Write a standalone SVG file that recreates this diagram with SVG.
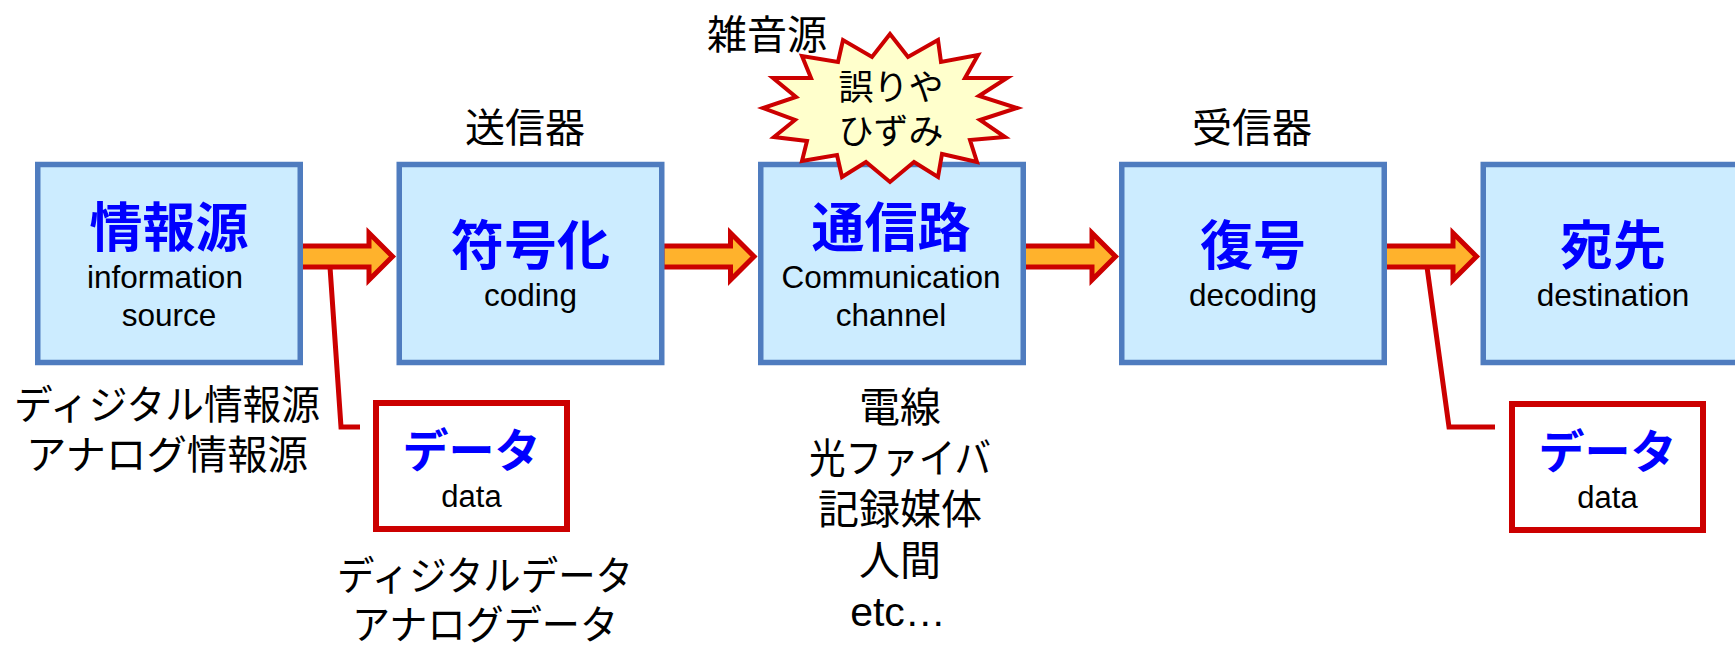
<svg xmlns="http://www.w3.org/2000/svg" xmlns:xlink="http://www.w3.org/1999/xlink" width="1735" height="646" viewBox="0 0 1735 646">
<style>
.box{fill:#CCECFF;stroke:#4F7CBF;stroke-width:5.5}
.dbox{fill:#FFFFFF;stroke:#CC0000;stroke-width:6}
.arrow{fill:#FFB22C;stroke:#CC0000;stroke-width:5;stroke-linejoin:miter}
.lead{fill:none;stroke:#CC0000;stroke-width:5;stroke-linejoin:miter}
.burst{fill:#FFFFCC;stroke:#CC0000;stroke-width:4;stroke-linejoin:miter}
.title{font-family:"Noto Sans CJK JP",sans-serif;font-weight:700;font-size:53px;fill:#0000FF;text-anchor:middle}
.dtitle{font-family:"Noto Sans CJK JP",sans-serif;font-weight:700;font-size:46px;fill:#0000FF;text-anchor:middle}
.en{font-family:"Liberation Sans",Arial,sans-serif;font-size:31.5px;fill:#000000;text-anchor:middle}
.den{font-family:"Liberation Sans",Arial,sans-serif;font-size:31px;fill:#000000;text-anchor:middle}
.jp{font-family:"Noto Sans CJK JP",sans-serif;font-size:40px;fill:#000000;text-anchor:middle}
.jp41{font-family:"Liberation Sans","Noto Sans CJK JP",sans-serif;font-size:41px;fill:#000000;text-anchor:middle}
.bt{font-family:"Noto Sans CJK JP",sans-serif;font-size:35px;fill:#000000;text-anchor:middle}
</style>
<defs>
<path id="arr" class="arrow" d="M-2.5,-10.5 L66,-10.5 L66,-23.5 L89.5,0 L66,23.5 L66,10.5 L-2.5,10.5 Z"/>
</defs>
<g id="connectors">
<use xlink:href="#arr" href="#arr" transform="translate(303,256.5)"/>
<use xlink:href="#arr" href="#arr" transform="translate(664.5,256.5)"/>
<use xlink:href="#arr" href="#arr" transform="translate(1026,256.5)"/>
<use xlink:href="#arr" href="#arr" transform="translate(1387,256.5)"/>
<polyline class="lead" points="330,267 341,427 360,427"/>
<polyline class="lead" points="1427,267 1449,427 1495,427"/>
</g>
<g id="node-source">
<rect class="box" x="37.75" y="164.5" width="262.5" height="198"/>
<text class="title" x="169" y="247">情報源</text>
<text class="en" x="165" y="288">information</text>
<text class="en" x="169" y="326">source</text>
</g>
<g id="node-coding">
<rect class="box" x="399.25" y="164.5" width="262.5" height="198"/>
<text class="title" x="530.5" y="265">符号化</text>
<text class="en" x="530.5" y="306">coding</text>
</g>
<g id="node-channel">
<rect class="box" x="760.75" y="164.5" width="262.5" height="198"/>
<text class="title" x="891" y="247">通信路</text>
<text class="en" x="891" y="288">Communication</text>
<text class="en" x="891" y="326">channel</text>
</g>
<g id="node-decoding">
<rect class="box" x="1121.75" y="164.5" width="262.5" height="198"/>
<text class="title" x="1253" y="265">復号</text>
<text class="en" x="1253" y="306">decoding</text>
</g>
<g id="node-destination">
<rect class="box" x="1483.25" y="164.5" width="262.5" height="198"/>
<text class="title" x="1613" y="265">宛先</text>
<text class="en" x="1613" y="306">destination</text>
</g>
<g id="node-noise">
<polygon class="burst" points="890,34 908,57 938,40 941,62 978,55 965,78 1007,78 979,96 1017,108 980,120 1005,137 970,140 977,162 942,154 938,177 914,162 890,182 866,162 842,177 837,155 802,161 807,141 774,137 795,120 763,108 796,97 773,78 811,78 802,56 838,62 843,40 872,57"/>
<text class="bt" x="891" y="100">誤りや</text>
<text class="bt" x="891" y="144">ひずみ</text>
</g>
<g id="node-data1">
<rect class="dbox" x="376" y="403" width="191" height="126"/>
<text class="dtitle" x="471.5" y="467">データ</text>
<text class="den" x="471.5" y="507">data</text>
</g>
<g id="node-data2">
<rect class="dbox" x="1512" y="404" width="191" height="126"/>
<text class="dtitle" x="1607.5" y="468">データ</text>
<text class="den" x="1607.5" y="508">data</text>
</g>
<g id="labels">
<text class="jp" x="767" y="49">雑音源</text>
<text class="jp" x="525" y="142">送信器</text>
<text class="jp" x="1252" y="142">受信器</text>
<text class="jp" x="167" y="419" textLength="306" lengthAdjust="spacingAndGlyphs">ディジタル情報源</text>
<text class="jp" x="167" y="469" textLength="282" lengthAdjust="spacingAndGlyphs">アナログ情報源</text>
<text class="jp" x="485" y="590" textLength="296" lengthAdjust="spacingAndGlyphs">ディジタルデータ</text>
<text class="jp" x="485" y="639" textLength="266" lengthAdjust="spacingAndGlyphs">アナログデータ</text>
<text class="jp41" x="900" y="422">電線</text>
<text class="jp41" x="900" y="473" textLength="182" lengthAdjust="spacingAndGlyphs">光ファイバ</text>
<text class="jp41" x="900" y="524">記録媒体</text>
<text class="jp41" x="900" y="575">人間</text>
<text class="jp41" x="898" y="626">etc…</text>
</g>
</svg>
